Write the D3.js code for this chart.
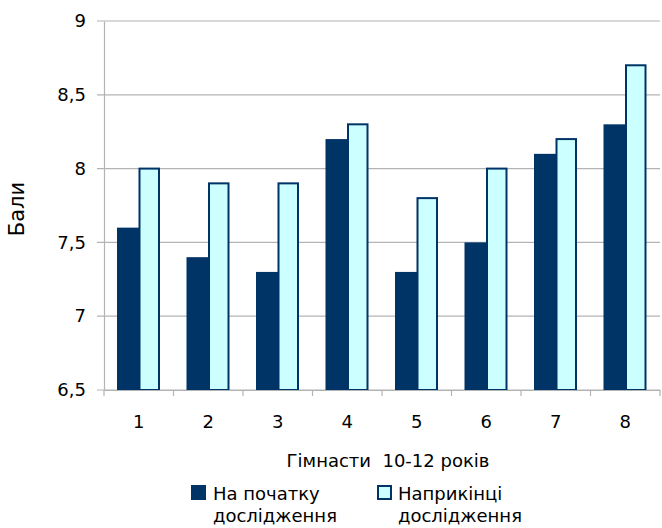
<!DOCTYPE html>
<html>
<head>
<meta charset="utf-8">
<script src="https://cdn.jsdelivr.net/npm/d3@7"></script>
<style>
  body { margin: 0; background: #fff; }
  svg { display: block; font-family: "DejaVu Sans", sans-serif; }
</style>
</head>
<body>
<svg id="chart" width="662" height="528"></svg>
<script>
// Gymnasts 10-12 years: scores at the start and the end of the study
const groups = ["1", "2", "3", "4", "5", "6", "7", "8"];
const startScores = [7.6, 7.4, 7.3, 8.2, 7.3, 7.5, 8.1, 8.3];
const endScores = [8.0, 7.9, 7.9, 8.3, 7.8, 8.0, 8.2, 8.7];
const seriesNames = ["На початку\nдослідження", "Наприкінці\nдослідження"];
const yTicks = [6.5, 7, 7.5, 8, 8.5, 9];

const svg = d3.select("#chart");
const margin = { left: 104, right: 2, top: 21, bottom: 138 };
const W = 662, H = 528;
const FONT = "DejaVu Sans, sans-serif";

const x = d3.scaleBand().domain(groups).range([margin.left, W - margin.right]).paddingInner(0).paddingOuter(0);
const y = d3.scaleLinear().domain([6.5, 9]).range([H - margin.bottom, margin.top]);

const fmt = d => String(d).replace(".", ",");

// horizontal gridlines
svg.append("g").selectAll("line").data(yTicks).join("line")
  .attr("x1", margin.left - 7).attr("x2", W - margin.right)
  .attr("y1", d => y(d)).attr("y2", d => y(d))
  .attr("stroke", "#b3b3b3").attr("stroke-width", 1.2);

// y axis
const yAxis = svg.append("g").attr("transform", `translate(${margin.left},0)`)
  .call(d3.axisLeft(y).tickValues(yTicks).tickFormat(fmt).tickSize(0).tickPadding(18));
yAxis.select(".domain").attr("stroke", "#b3b3b3").attr("stroke-width", 1.2);
yAxis.selectAll("text").attr("font-size", 18).attr("fill", "#000").attr("font-family", FONT);

// bars
const colors = ["#003366", "#ccffff"];
const inner = d3.scaleBand().domain([0, 1]).range([13, 56]).padding(0);
const data = groups.map((g, i) => ({ g, vals: [startScores[i], endScores[i]] }));

const grp = svg.append("g").selectAll("g").data(data).join("g")
  .attr("transform", d => `translate(${x(d.g)},0)`);
grp.selectAll("rect").data(d => d.vals.map((v, k) => ({ v, k }))).join("rect")
  .attr("x", d => d.k === 0 ? inner(0) : inner(1) + 1)
  .attr("width", d => d.k === 0 ? inner.bandwidth() + 0.5 : inner.bandwidth() - 2)
  .attr("y", d => y(d.v))
  .attr("height", d => y(6.5) - y(d.v))
  .attr("fill", d => colors[d.k])
  .attr("stroke", d => d.k === 1 ? "#003366" : "none")
  .attr("stroke-width", 2);

// x axis
const xAxis = svg.append("g").attr("transform", `translate(0,${y(6.5)})`)
  .call(d3.axisBottom(x).tickSize(0).tickPadding(25));
xAxis.select(".domain").attr("stroke", "#b3b3b3").attr("stroke-width", 1.2);
xAxis.selectAll("text").attr("font-size", 18).attr("fill", "#000").attr("font-family", FONT);
// tick marks at band boundaries
svg.append("g").selectAll("line").data(groups.concat(["end"])).join("line")
  .attr("x1", (d, i) => margin.left + i * x.bandwidth())
  .attr("x2", (d, i) => margin.left + i * x.bandwidth())
  .attr("y1", y(6.5)).attr("y2", y(6.5) + 6)
  .attr("stroke", "#b3b3b3").attr("stroke-width", 1.2);

// axis titles
svg.append("text").attr("x", 388).attr("y", 467).attr("text-anchor", "middle")
  .attr("font-size", 18).attr("font-family", FONT).attr("xml:space", "preserve")
  .text("Гімнасти  10-12 років");
svg.append("text").attr("transform", `translate(24,209) rotate(-90)`)
  .attr("text-anchor", "middle").attr("font-size", 21).attr("font-family", FONT).text("Бали");

// legend
const legendX = [191, 377];
seriesNames.forEach((name, k) => {
  const g = svg.append("g").attr("transform", `translate(${legendX[k]},485)`);
  g.append("rect").attr("x", k === 1 ? 1 : 0).attr("y", k === 1 ? 1 : 0)
    .attr("width", k === 1 ? 13 : 15).attr("height", k === 1 ? 13 : 15)
    .attr("fill", colors[k]).attr("stroke", k === 1 ? "#003366" : "none").attr("stroke-width", 2);
  const t = g.append("text").attr("y", 15).attr("font-size", 18).attr("font-family", FONT);
  name.split("\n").forEach((line, j) => {
    t.append("tspan").attr("x", k === 0 ? 22 : 21).attr("dy", j === 0 ? 0 : 22).text(line);
  });
});
</script>
</body>
</html>
